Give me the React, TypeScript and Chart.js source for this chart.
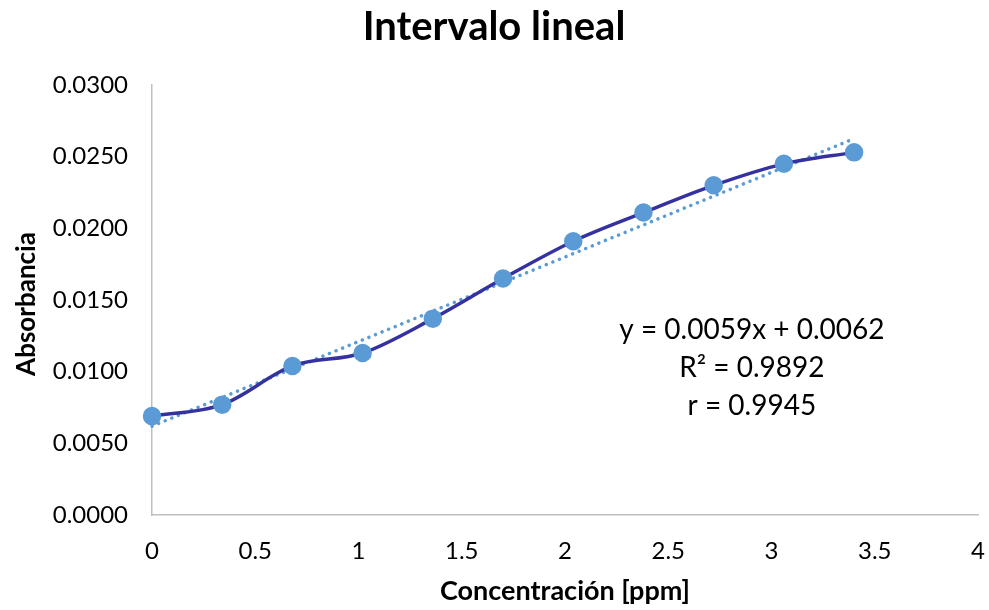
import React, { useEffect, useRef } from "react";
import { Chart, registerables } from "chart.js";

Chart.register(...registerables);

const concentrations = [0, 0.34, 0.68, 1.02, 1.36, 1.7, 2.04, 2.38, 2.72, 3.06, 3.4];
const absorbances = [0.0069, 0.0077, 0.0104, 0.0113, 0.0137, 0.0165, 0.0191, 0.0211, 0.023, 0.0245, 0.0253];
const trendSlope = 0.0059;
const trendIntercept = 0.0062;
const trendRange = [0, 3.4];
const titleText = "Intervalo lineal";
const xAxisTitle = "Concentración [ppm]";
const yAxisTitle = "Absorbancia";
const annotationLines = ["y = 0.0059x + 0.0062", "R² = 0.9892", "r = 0.9945"];

const FONT = "Lato";

const textPlugin = {
  id: "customText",
  afterDraw(chart: any) {
    const { ctx, chartArea } = chart;
    ctx.save();
    ctx.fillStyle = "#000";
    ctx.textAlign = "center";
    ctx.textBaseline = "middle";
    ctx.font = `bold 40px ${FONT}`;
    ctx.fillText(titleText, 494, 27);
    ctx.font = `bold 27px ${FONT}`;
    ctx.fillText(xAxisTitle, (chartArea.left + chartArea.right) / 2, 591);
    ctx.font = `bold 26px ${FONT}`;
    ctx.save();
    ctx.translate(27, (chartArea.top + chartArea.bottom) / 2 + 4);
    ctx.rotate(-Math.PI / 2);
    ctx.fillText(yAxisTitle, 0, 0);
    ctx.restore();
    ctx.font = `28px ${FONT}`;
    const xs = chart.scales.x.getPixelForValue(2.905);
    annotationLines.forEach((l, i) => {
      ctx.fillText(l, xs, 330 + i * 38);
    });
    ctx.restore();
  },
};

export default function App() {
  const ref = useRef<HTMLCanvasElement>(null);
  useEffect(() => {
    const trend = trendRange.map((x) => ({ x, y: trendSlope * x + trendIntercept }));
    const chart = new Chart(ref.current!, {
      type: "scatter",
      data: {
        datasets: [
          {
            label: "Trend",
            data: trend,
            showLine: true,
            borderColor: "#5b9bd5",
            borderWidth: 3.5,
            borderDash: [0.1, 7],
            borderCapStyle: "round",
            pointRadius: 0,
            clip: false,
            order: 2,
          } as any,
          {
            label: "Absorbancia",
            data: concentrations.map((x, i) => ({ x, y: absorbances[i] })),
            showLine: true,
            borderColor: "#3532a0",
            borderWidth: 3.5,
            tension: 0.4,
            cubicInterpolationMode: "monotone",
            pointRadius: 7.5,
            pointBackgroundColor: "#5b9bd5",
            pointBorderColor: "#5b9bd5",
            clip: false,
            order: 1,
          } as any,
        ],
      },
      options: {
        animation: false,
        responsive: false,
        maintainAspectRatio: false,
        layout: { padding: { top: 85, right: 11, left: 0, bottom: 0 } },
        plugins: { legend: { display: false }, tooltip: { enabled: false }, title: { display: false } },
        scales: {
          x: {
            type: "linear",
            min: 0,
            max: 4,
            ticks: {
              stepSize: 0.5,
              color: "#000",
              font: { family: FONT, size: 24 },
              padding: 22,
              maxRotation: 0,
              autoSkip: false,
              callback: (v: any) => String(Number(v)),
            },
            grid: { display: false, drawTicks: false },
            border: { display: true, color: "#bfbfbf", width: 1.5 },
            afterFit: (s: any) => { s.height = 95; s.paddingRight = 0; s.paddingLeft = 0; },
          },
          y: {
            min: 0,
            max: 0.03,
            ticks: {
              stepSize: 0.005,
              color: "#000",
              font: { family: FONT, size: 24 },
              padding: 24,
              callback: (v: any) => Number(v).toFixed(4),
            },
            grid: { display: false, drawTicks: false },
            border: { display: true, color: "#bfbfbf", width: 1.5 },
            afterFit: (s: any) => { s.width = 152; s.paddingTop = 0; s.paddingBottom = 0; },
          },
        },
      },
      plugins: [textPlugin],
    });
    return () => chart.destroy();
  }, []);
  return (
    <div style={{ position: "fixed", left: 0, top: 0, width: 989, height: 610, background: "#fff" }}>
      <canvas ref={ref} width={989} height={610} style={{ width: 989, height: 610 }} />
    </div>
  );
}
